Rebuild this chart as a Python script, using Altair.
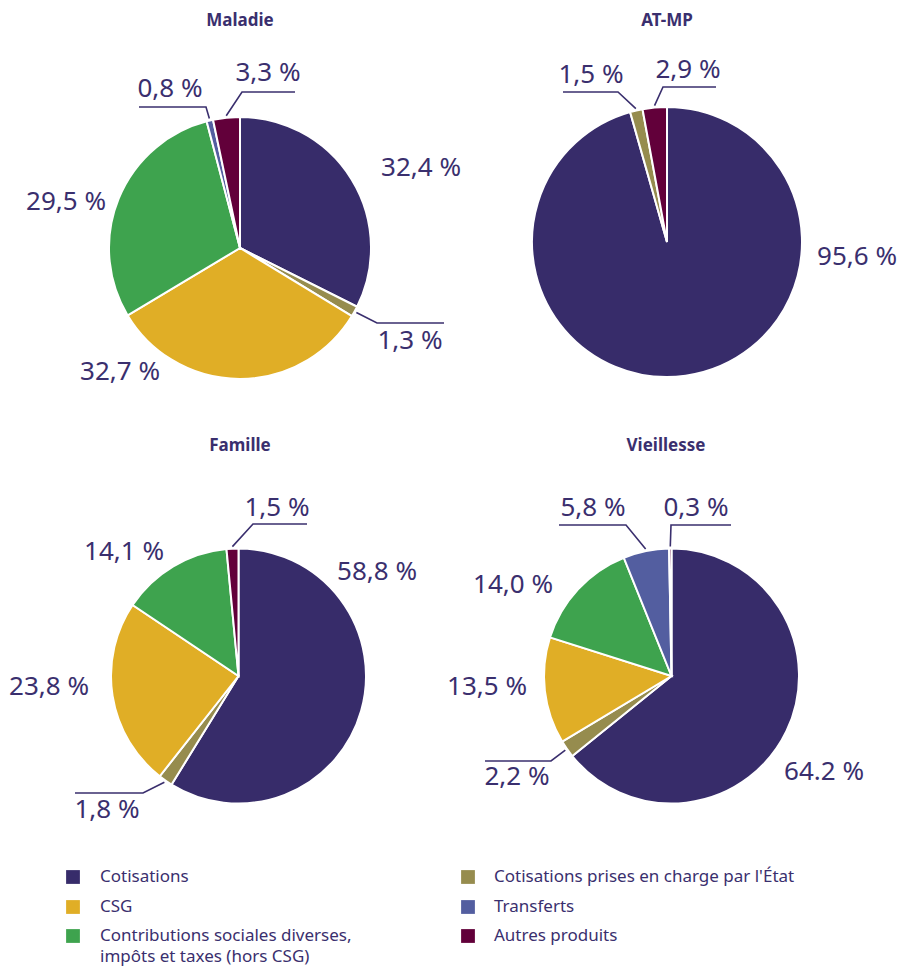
import math
import altair as alt
import pandas as pd

# ---------------- data ----------------
categories = [
    "Cotisations",
    "Cotisations prises en charge par l'État",
    "CSG",
    "Contributions sociales diverses,\nimpôts et taxes (hors CSG)",
    "Transferts",
    "Autres produits",
]
branches = ["Maladie", "AT-MP", "Famille", "Vieillesse"]

maladie = [32.4, 1.3, 32.7, 29.5, 0.8, 3.3]
atmp = [95.6, 1.5, 0.0, 0.0, 0.0, 2.9]
famille = [58.8, 1.8, 23.8, 14.1, 0.0, 1.5]
vieillesse = [64.2, 2.2, 13.5, 14.0, 5.8, 0.3]

labels_maladie = ["32,4 %", "1,3 %", "32,7 %", "29,5 %", "0,8 %", "3,3 %"]
labels_atmp = ["95,6 %", "1,5 %", "", "", "", "2,9 %"]
labels_famille = ["58,8 %", "1,8 %", "23,8 %", "14,1 %", "", "1,5 %"]
labels_vieillesse = ["64.2 %", "2,2 %", "13,5 %", "14,0 %", "5,8 %", "0,3 %"]

values = [maladie, atmp, famille, vieillesse]
labels = [labels_maladie, labels_atmp, labels_famille, labels_vieillesse]

# ---------------- layout / styles ----------------
colors = ["#372c6a", "#968c4e", "#e0ae26", "#3ea34e", "#535ea0", "#62003a"]
text_color = "#3a2f6e"
FONT = "Noto Sans"

# pie centre x, centre y, radius, title x, title y (page pixels)
pie_layout = [
    (240, 248, 131, 240, 21),
    (667, 242, 135, 667, 21),
    (238.5, 676, 127.5, 240, 446),
    (671.5, 676, 127.5, 666, 446),
]
# label centres per branch / category
label_pos = [
    [(421, 168), (410, 341), (120, 372), (66, 202), (170, 89), (268, 73)],
    [(857, 257), (591, 75), None, None, None, (688, 70)],
    [(377, 572), (107, 810), (49, 687), (124, 552), None, (277, 508)],
    [(824, 772), (517, 777), (487, 687), (513, 585), (593, 508), (696, 508)],
]
# leader lines: (branch idx, category idx, kink, end)
leaders = [
    (0, 1, (377, 323), (444, 323)),
    (0, 4, (206, 107), (139, 107)),
    (0, 5, (242, 92), (295, 92)),
    (1, 1, (618, 92), (563, 92)),
    (1, 5, (663, 87), (716, 87)),
    (2, 1, (143, 793), (75, 793)),
    (2, 5, (253, 524), (307, 524)),
    (3, 1, (551, 761), (485, 761)),
    (3, 4, (626, 525), (559, 525)),
    (3, 5, (671, 525), (731, 525)),
]
# legend cells (column, row)
legend_cells = [(0, 0), (1, 0), (0, 1), (0, 2), (1, 1), (1, 2)]
legend_sq_x = [73, 468]
legend_tx_x = [100, 494]
legend_row_y = [877, 907, 936]
legend_line_h = 21

# ---------------- build tables ----------------
arc_rows, lab_rows, line_rows = [], [], []
mids = {}
for bi, (b, vals) in enumerate(zip(branches, values)):
    cx, cy, r, _, _ = pie_layout[bi]
    cum = 0.0
    for ci, (cat, v) in enumerate(zip(categories, vals)):
        if v <= 0:
            continue
        arc_rows.append(dict(branch=b, cat=cat, t0=cum, t1=cum + v, cx=cx, cy=cy, r=r))
        mids[(bi, ci)] = cum + v / 2
        cum += v
        pos = label_pos[bi][ci]
        if pos is not None:
            lab_rows.append(dict(x=pos[0], y=pos[1], text=labels[bi][ci]))

for li, (bi, ci, kink, end) in enumerate(leaders):
    cx, cy, r, _, _ = pie_layout[bi]
    ang = mids[(bi, ci)] / 100 * 2 * math.pi
    ax = cx + (r + 2) * math.sin(ang)
    ay = cy - (r + 2) * math.cos(ang)
    for k, (px, py) in enumerate([(ax, ay), kink, end]):
        line_rows.append(dict(id=li, ord=k, x=px, y=py))

title_rows = [dict(x=pl[3], y=pl[4], text=b) for b, pl in zip(branches, pie_layout)]

sq_rows, lt_rows = [], []
for cat, (col, row) in zip(categories, legend_cells):
    sq_rows.append(dict(cat=cat, x=legend_sq_x[col], y=legend_row_y[row]))
    for k, part in enumerate(cat.split("\n")):
        lt_rows.append(dict(x=legend_tx_x[col], y=legend_row_y[row] + k * legend_line_h, text=part))

arcs = pd.DataFrame(arc_rows)
labs = pd.DataFrame(lab_rows)
lines = pd.DataFrame(line_rows)
titles = pd.DataFrame(title_rows)
sqs = pd.DataFrame(sq_rows)
lts = pd.DataFrame(lt_rows)

W, H = 890, 958
xs = alt.Scale(domain=[8, 8 + W], nice=False, zero=False)
ys = alt.Scale(domain=[8, 8 + H], nice=False, zero=False, reverse=True)
cscale = alt.Scale(domain=categories, range=colors)

X = lambda f: alt.X(f, type="quantitative", scale=xs, axis=None)
Y = lambda f: alt.Y(f, type="quantitative", scale=ys, axis=None)

pie = alt.Chart(arcs).mark_arc(stroke="white", strokeWidth=2).encode(
    x=X("cx"),
    y=Y("cy"),
    theta=alt.Theta("t0:Q", scale=alt.Scale(domain=[0, 100], range=[0, 2 * math.pi]), stack=False),
    theta2="t1:Q",
    radius=alt.Radius("r:Q", scale=alt.Scale(type="linear", domain=[0, 200], range=[0, 200], zero=True)),
    color=alt.Color("cat:N", scale=cscale, legend=None),
)

leader = alt.Chart(lines).mark_line(color=text_color, strokeWidth=1.6).encode(
    x=X("x"), y=Y("y"), detail="id:N", order="ord:Q"
)

label = alt.Chart(labs).mark_text(
    font=FONT, fontSize=26, color=text_color, align="center", baseline="middle"
).encode(x=X("x"), y=Y("y"), text="text:N")

title = alt.Chart(titles).mark_text(
    font=FONT, fontSize=17, fontWeight="bold", color=text_color, align="center", baseline="middle"
).encode(x=X("x"), y=Y("y"), text="text:N")

lsq = alt.Chart(sqs).mark_square(size=190, opacity=1, filled=True).encode(
    x=X("x"), y=Y("y"), color=alt.Color("cat:N", scale=cscale, legend=None)
)

ltx = alt.Chart(lts).mark_text(
    font=FONT, fontSize=17, color=text_color, align="left", baseline="middle"
).encode(x=X("x"), y=Y("y"), text="text:N")

chart = alt.layer(pie, leader, label, title, lsq, ltx).properties(
    width=W, height=H, padding=0
).configure_view(stroke=None)

chart.save("out.html", embed_options={"renderer": "svg", "actions": False})
